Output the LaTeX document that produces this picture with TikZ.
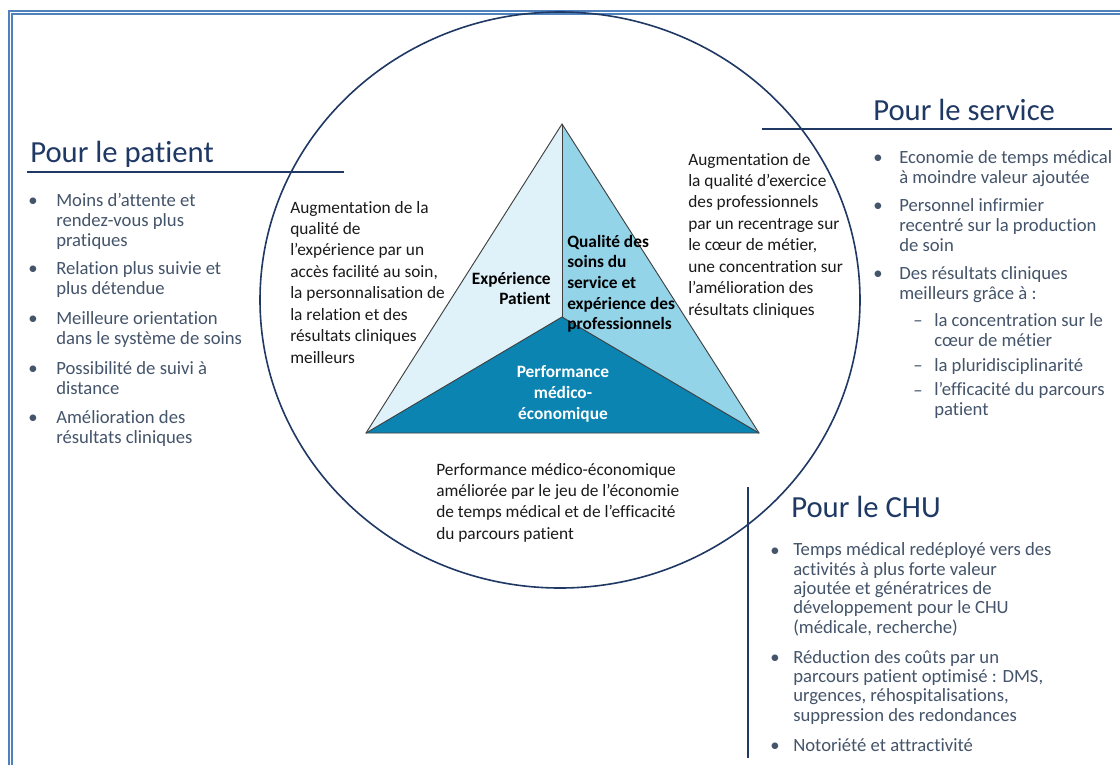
\documentclass[tikz,border=0pt]{standalone}
\usepackage{fontspec}
\setmainfont[Ligatures={NoCommon}]{Carlito}
\definecolor{borderblue}{HTML}{4F81BD}
\definecolor{navy}{HTML}{1F3864}
\definecolor{slate}{HTML}{44546A}
\definecolor{triL}{HTML}{DFF2FA}
\definecolor{triR}{HTML}{93D4E9}
\definecolor{triB}{HTML}{0B84B2}
\definecolor{inktext}{HTML}{1A1A1A}
\definecolor{triedge}{HTML}{404040}
\begin{document}
\begin{tikzpicture}[x=0.75pt,y=-0.75pt,
  header/.style={font=\fontsize{23}{27}\selectfont, text=navy, anchor=base west, inner sep=0pt},
  bultext/.style={font=\fontsize{14}{15}\selectfont, text=slate, anchor=base west, inner sep=0pt, align=left},
  bulmark/.style={font=\fontsize{14}{15}\selectfont, text=slate, anchor=base, inner sep=0pt},
  circtext/.style={font=\fontsize{13}{16.1}\selectfont, text=inktext, anchor=base west, inner sep=0pt, align=left},
  tritext/.style={font=\bfseries\fontsize{13}{15.5}\selectfont, inner sep=0pt},
  rulestyle/.style={draw=navy, line width=1.1pt},
  borderline/.style={draw=borderblue, line width=1.2pt},
  triline/.style={draw=triedge, line width=0.7pt},
]
\path[use as bounding box] (0,0) rectangle (1120,765);
\fill[white] (0,0) rectangle (1120,765);

% double border
\coordinate (ob1) at (8.8,765);
\coordinate (ob2) at (8.8,10.7);
\coordinate (ob3) at (1120,10.7);
\coordinate (ib1) at (11.8,765);
\coordinate (ib2) at (11.8,13.8);
\coordinate (ib3) at (1120,13.8);
\draw[borderline] (ob1) -- (ob2) -- (ob3);
\draw[borderline] (ib1) -- (ib2) -- (ib3);

% triangle
\coordinate (A) at (562,124);
\coordinate (BL) at (366,433);
\coordinate (BR) at (759,433);
\coordinate (O) at (562,317);
\fill[triL] (A) -- (O) -- (BL) -- cycle;
\fill[triR] (A) -- (BR) -- (O) -- cycle;
\fill[triB] (BL) -- (O) -- (BR) -- cycle;
\draw[triline] (A) -- (O);
\draw[triline] (O) -- (BL);
\draw[triline] (O) -- (BR);
\draw[triline, line join=miter] (A) -- (BL) -- (BR) -- cycle;

% big ellipse
\coordinate (E) at (560,300);
\draw[navy, line width=1.2pt] (E) ellipse [x radius=225pt, y radius=216pt];

% rules
\coordinate (r1a) at (27,172);
\coordinate (r1b) at (344,172);
\coordinate (r2a) at (762,129);
\coordinate (r2b) at (1112,129);
\coordinate (r3a) at (748,487);
\coordinate (r3b) at (748,758);
\draw[rulestyle] (r1a) -- (r1b);
\draw[rulestyle] (r2a) -- (r2b);
\draw[rulestyle] (r3a) -- (r3b);

% headers
\node[header] (hpat) at (30,162) {Pour le patient};
\node[header] (hser) at (873,120) {Pour le service};
\node[header] (hchu) at (791,517) {Pour le CHU};

% triangle labels (anchors at the baseline of the last line)
\node[tritext, anchor=base east, align=right] (texp) at (551,304.7) {Expérience\\Patient};
\node[tritext, anchor=base west, align=left] (tqual) at (567,329.7) {Qualité des\\soins du\\service et\\expérience des\\professionnels};
\node[tritext, anchor=base, align=center, text=white] (tperf) at (563,419.3) {Performance\\médico-\\économique};

% circle texts
\node[circtext] (cleft) at (290,363.3) {Augmentation de la\\qualité de\\l’expérience par un\\accès facilité au soin,\\la personnalisation de\\la relation et des\\résultats cliniques\\meilleurs};
\node[circtext] (cright) at (688,315.3) {Augmentation de\\la qualité d’exercice\\des professionnels\\par un recentrage sur\\le cœur de métier,\\une concentration sur\\l’amélioration des\\résultats cliniques};
\node[circtext] (cbottom) at (436,539.4) {Performance médico-économique\\améliorée par le jeu de l’économie\\de temps médical et de l’efficacité\\du parcours patient};

% patient list
\node[bulmark] (pb1) at (33,206) {•};
\node[bultext] (pt1) at (56,246) {Moins d’attente et\\rendez-vous plus\\pratiques};
\node[bulmark] (pb2) at (33,274) {•};
\node[bultext] (pt2) at (56,294) {Relation plus suivie et\\plus détendue};
\node[bulmark] (pb3) at (33,324) {•};
\node[bultext] (pt3) at (56,344) {Meilleure orientation\\dans le système de soins};
\node[bulmark] (pb4) at (33,374) {•};
\node[bultext] (pt4) at (56,394) {Possibilité de suivi à\\distance};
\node[bulmark] (pb5) at (33,423) {•};
\node[bultext] (pt5) at (56,443) {Amélioration des\\résultats cliniques};

% service list
\node[bulmark] (sb1) at (878,163) {•};
\node[bultext] (st1) at (899,183) {Economie de temps médical\\à moindre valeur ajoutée};
\node[bulmark] (sb2) at (878,211) {•};
\node[bultext] (st2) at (899,251) {Personnel infirmier\\recentré sur la production\\de soin};
\node[bulmark] (sb3) at (878,279) {•};
\node[bultext] (st3) at (899,299) {Des résultats cliniques\\meilleurs grâce à :};
\node[bulmark] (sd1) at (918,326) {–};
\node[bultext] (su1) at (934,346) {la concentration sur le\\cœur de métier};
\node[bulmark] (sd2) at (918,371) {–};
\node[bultext] (su2) at (934,371) {la pluridisciplinarité};
\node[bulmark] (sd3) at (918,396) {–};
\node[bultext] (su3) at (934,415) {l’efficacité du parcours\\patient};

% CHU list
\node[bulmark] (cb1) at (775,556) {•};
\node[bultext, font=\fontsize{14}{14.5}\selectfont] (ct1) at (793,633.3) {Temps médical redéployé vers des\\activités à plus forte valeur\\ajoutée et génératrices de\\développement pour le CHU\\(médicale, recherche)};
\node[bulmark] (cb2) at (775,663) {•};
\node[bultext, font=\fontsize{14}{14.5}\selectfont] (ct2) at (793,721) {Réduction des coûts par un\\parcours patient optimisé : DMS,\\urgences, réhospitalisations,\\suppression des redondances};
\node[bulmark] (cb3) at (775,751) {•};
\node[bultext] (ct3) at (793,751) {Notoriété et attractivité};
\end{tikzpicture}
\end{document}
